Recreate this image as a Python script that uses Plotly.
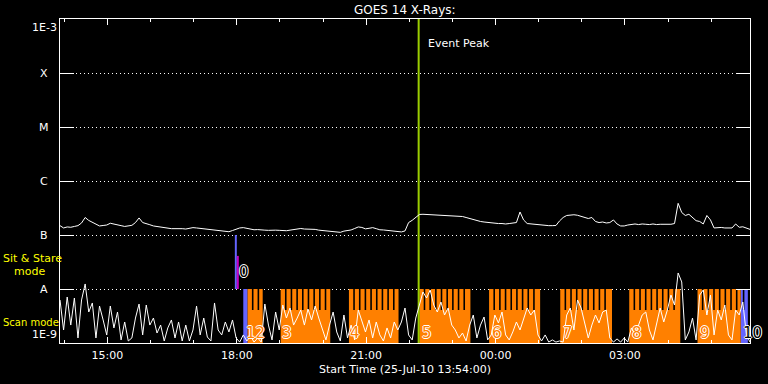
import numpy as np
import pandas as pd
import plotly.graph_objects as go

# ---------------- data ----------------
T0 = pd.Timestamp("2010-07-25 13:54:00")
T1 = pd.Timestamp("2010-07-26 05:54:00")
CADENCE = "5min"

# GOES 14 long channel flux, units of 1e-7 W/m^2, 5-minute cadence from T0
goes_flux_e7 = [
    1.49, 1.35, 1.41, 1.39, 1.44, 1.49, 1.67, 2.11, 1.86, 1.70,
    1.56, 1.47, 1.50, 1.53, 1.65, 1.61, 1.53, 1.49, 1.44, 1.47,
    1.51, 1.70, 2.07, 1.70, 1.60, 1.55, 1.47, 1.44, 1.39, 1.35,
    1.31, 1.31, 1.31, 1.33, 1.31, 1.29, 1.33, 1.37, 1.35, 1.33,
    1.29, 1.26, 1.25, 1.24, 1.21, 1.19, 1.18, 1.15, 1.21, 1.27,
    1.35, 1.37, 1.33, 1.29, 1.25, 1.26, 1.26, 1.23, 1.22, 1.24,
    1.23, 1.22, 1.21, 1.20, 1.23, 1.25, 1.30, 1.32, 1.29, 1.28,
    1.29, 1.27, 1.23, 1.21, 1.19, 1.17, 1.15, 1.14, 1.12, 1.18,
    1.21, 1.24, 1.32, 1.41, 1.38, 1.30, 1.33, 1.37, 1.31, 1.25,
    1.24, 1.22, 1.20, 1.18, 1.16, 1.14, 1.19, 1.70, 1.87, 2.15,
    2.40, 2.42, 2.40, 2.40, 2.37, 2.35, 2.35, 2.32, 2.30, 2.30,
    2.27, 2.25, 2.20, 2.11, 2.02, 1.90, 1.82, 1.78, 1.74, 1.70,
    1.70, 1.67, 1.63, 1.63, 1.60, 1.63, 1.67, 1.70, 2.67, 1.90,
    1.63, 1.60, 1.56, 1.53, 1.51, 1.50, 1.49, 1.49, 1.50, 1.82,
    2.11, 2.30, 2.37, 2.37, 2.32, 2.20, 2.07, 2.02, 2.11, 1.78,
    1.70, 1.74, 1.67, 1.70, 1.90, 1.60, 1.47, 1.47, 1.53, 1.58,
    1.60, 1.56, 1.60, 1.58, 1.56, 1.60, 1.56, 1.58, 1.58, 1.56,
    1.58, 1.63, 3.86, 2.61, 2.30, 2.42, 2.13, 1.84, 1.78, 1.60,
    2.30, 1.90, 1.35, 1.37, 1.38, 1.35, 1.37, 1.35, 1.60, 1.39,
    1.42, 1.32, 1.27,
]

# low-band count-rate trace, shown in units of 1e-9 on the same scale
lo_flux_e9 = [
    6.26, 1.74, 7.11, 2.15, 6.81, 1.24, 6.26, 12.4, 3.75, 5.51,
    1.24, 4.84, 2.67, 1.41, 4.84, 1.90, 3.75, 1.14, 2.45, 1.09,
    1.24, 2.90, 5.27, 1.41, 5.05, 2.15, 2.90, 1.53, 2.15, 1.09,
    1.90, 2.67, 1.24, 2.45, 1.09, 2.15, 1.09, 1.74, 4.84, 1.41,
    2.90, 1.29, 1.09, 5.51, 1.74, 1.41, 2.45, 1.60, 2.67, 1.24,
    1.04, 1.41, 1.09, 1.35, 1.04, 1.24, 1.04, 5.27, 2.15, 1.14,
    3.75, 1.74, 5.05, 2.90, 4.45, 2.15, 2.90, 4.08, 2.15, 4.26,
    2.67, 4.84, 2.90, 1.74, 1.14, 2.15, 3.75, 1.60, 1.09, 3.30,
    1.24, 2.15, 1.14, 4.08, 2.67, 1.60, 2.67, 1.24, 2.45, 1.41,
    1.09, 1.90, 1.24, 2.45, 1.74, 2.45, 4.45, 1.41, 1.14, 2.90,
    5.05, 8.80, 6.81, 9.58, 5.05, 3.75, 5.74, 3.30, 4.45, 2.15,
    1.74, 1.24, 1.53, 1.09, 2.15, 3.30, 1.24, 2.15, 3.03, 1.14,
    1.41, 3.30, 2.35, 3.75, 1.41, 1.14, 1.60, 2.45, 1.74, 2.67,
    4.45, 3.30, 4.08, 1.41, 1.09, 1.41, 1.04, 1.14, 1.04, 1.09,
    1.04, 3.30, 4.45, 1.74, 6.26, 4.45, 2.45, 1.24, 2.15, 3.30,
    2.35, 3.75, 4.08, 1.24, 1.04, 1.19, 1.04, 1.24, 1.04, 1.90,
    1.41, 2.15, 3.30, 3.75, 1.74, 1.14, 2.15, 4.45, 2.45, 4.08,
    7.74, 5.05, 19.8, 13.5, 1.14, 1.60, 2.90, 1.14, 7.74, 9.58,
    3.30, 7.74, 1.41, 4.08, 2.67, 5.05, 1.41, 1.14, 4.08, 3.30,
    5.74, 1.41, 1.04,
]

# scan-mode intervals (orange) and other-mode intervals (blue)
scan_starts = ["2010-07-25 18:15", "2010-07-25 19:01", "2010-07-25 20:36", "2010-07-25 22:14",
               "2010-07-25 23:51", "2010-07-26 01:30", "2010-07-26 03:06", "2010-07-26 04:41"]
scan_ends = ["2010-07-25 18:36", "2010-07-25 20:10", "2010-07-25 21:45", "2010-07-25 23:25",
             "2010-07-26 01:02", "2010-07-26 02:42", "2010-07-26 04:17", "2010-07-26 05:41"]
alt_starts = ["2010-07-25 18:09", "2010-07-26 05:41"]
alt_ends = ["2010-07-25 18:15", "2010-07-26 05:51"]

# sit & stare markers
stare_starts = ["2010-07-25 17:57:15", "2010-07-25 18:00"]
stare_ends = ["2010-07-25 18:00", "2010-07-25 18:02:45"]
stare_tops = [1e-7, 4.1e-8]

event_peak = "2010-07-25 22:13"

orbit_labels = ["0", "12", "3", "4", "5", "6", "7", "8", "9", "10"]
orbit_times = ["2010-07-25 18:00", "2010-07-25 18:10", "2010-07-25 19:00", "2010-07-25 20:35",
               "2010-07-25 22:15", "2010-07-25 23:52", "2010-07-26 01:31", "2010-07-26 03:07",
               "2010-07-26 04:42", "2010-07-26 05:41"]
orbit_flux = [2.07e-8, 1.53e-9, 1.53e-9, 1.53e-9, 1.53e-9, 1.53e-9, 1.53e-9, 1.53e-9, 1.53e-9, 1.53e-9]

xtick_vals = ["2010-07-25 15:00", "2010-07-25 18:00", "2010-07-25 21:00",
              "2010-07-26 00:00", "2010-07-26 03:00"]
xtick_text = ["15:00", "18:00", "21:00", "00:00", "03:00"]
ytick_vals = [1e-3, 1e-4, 1e-5, 1e-6, 1e-7, 1e-8, 1e-9]
ytick_text = ["1E-3", "X", "M", "C", "B", "A", "1E-9"]

# ---------------- style ----------------
FONT = "DejaVu Sans"
ORANGE = "#ff8000"
BLUE = "#6464ff"
MAGENTA = "#c800c8"
GREEN = "#9acd00"
YELLOW = "#ffff00"
TOOTH_FLOOR = 4.1e-9
TOOTH_PERIOD = pd.Timedelta(minutes=7.9)
TOOTH_GAP = pd.Timedelta(minutes=2.2)
TOOTH_OFFSET = pd.Timedelta(minutes=6)

times = pd.date_range(T0, periods=len(goes_flux_e7), freq=CADENCE)

fig = go.Figure()


def rect_trace(rects, color):
    xs, ys = [], []
    for x0, x1, y0, y1 in rects:
        x0, x1 = pd.Timestamp(x0), pd.Timestamp(x1)
        xs += [x0, x1, x1, x0, x0, None]
        ys += [y0, y0, y1, y1, y0, None]
    fig.add_trace(go.Scatter(x=xs, y=ys, mode="lines", fill="toself", fillcolor=color,
                             line=dict(width=0, color=color), hoverinfo="skip",
                             showlegend=False))


rect_trace([(s, e, 1e-9, 1e-8) for s, e in zip(alt_starts, alt_ends)], BLUE)
rect_trace([(s, e, 1e-9, 1e-8) for s, e in zip(scan_starts, scan_ends)], ORANGE)

gaps = []
for s, e in list(zip(scan_starts, scan_ends)) + list(zip(alt_starts[1:], alt_ends[1:])):
    s, e = pd.Timestamp(s), pd.Timestamp(e)
    g = s + (TOOTH_OFFSET if (e - s) > pd.Timedelta(minutes=12) else pd.Timedelta(minutes=3))
    while g + TOOTH_GAP <= e - pd.Timedelta(minutes=2):
        gaps.append((g, g + TOOTH_GAP, TOOTH_FLOOR, 1e-8))
        g += TOOTH_PERIOD
rect_trace(gaps, "black")

rect_trace([(stare_starts[0], stare_ends[0], 1e-8, stare_tops[0])], BLUE)
rect_trace([(stare_starts[1], stare_ends[1], 1e-8, stare_tops[1])], MAGENTA)

fig.add_trace(go.Scatter(x=[pd.Timestamp(event_peak)] * 2, y=[1e-9, 1e-3], mode="lines",
                         line=dict(color=GREEN, width=2), hoverinfo="skip", showlegend=False))

fig.add_trace(go.Scatter(x=times, y=np.array(goes_flux_e7) * 1e-7, mode="lines",
                         line=dict(color="white", width=1), hoverinfo="skip", showlegend=False))
fig.add_trace(go.Scatter(x=times, y=np.array(lo_flux_e9) * 1e-9, mode="lines",
                         line=dict(color="white", width=1), hoverinfo="skip",
                         showlegend=False))

ann = []
for txt, v in zip(ytick_text, ytick_vals):
    anchor = "top" if v == ytick_vals[0] else ("bottom" if v == ytick_vals[-1] else "middle")
    ann.append(dict(text=txt, xref="paper", x=-16 / 690, xanchor="center", yref="y",
                    y=float(np.log10(v)), yanchor=anchor, showarrow=False,
                    font=dict(family=FONT, size=11, color="white")))

ann.append(dict(text="GOES 14 X-Rays:", xref="paper", x=0.5, yref="paper", y=(343 - 10) / 324,
                xanchor="center", yanchor="middle", showarrow=False,
                font=dict(family=FONT, size=12, color="white")))
ann.append(dict(text="Start Time (25-Jul-10 13:54:00)", xref="paper", x=0.5, yref="paper",
                y=(343 - 369) / 324, xanchor="center", yanchor="middle", showarrow=False,
                font=dict(family=FONT, size=11, color="white")))
ann.append(dict(text="Event Peak", xref="x", x=event_peak, xanchor="left", xshift=7,
                yref="paper", y=(343 - 43) / 324, yanchor="middle", showarrow=False,
                font=dict(family=FONT, size=11, color="white")))
for txt, ypx, xpx, sz in [("Sit & Stare", 258, 1, 11), ("mode", 271, 12, 11),
                          ("Scan mode", 322, 1, 10)]:
    ann.append(dict(text=txt, xref="paper", x=(xpx - 60) / 690, xanchor="left", yref="paper",
                    y=(343 - ypx) / 324, yanchor="middle", showarrow=False,
                    font=dict(family=FONT, size=sz, color=YELLOW)))

outline = "1px 0 0 #fff, -1px 0 0 #fff, 0 1px 0 #fff, 0 -1px 0 #fff"
for txt, t, f in zip(orbit_labels, orbit_times, orbit_flux):
    fill = "black" if txt in ("0", "10") else ORANGE
    ann.append(dict(text=txt, xref="x", x=t, xanchor="left", yref="y", y=float(np.log10(f)),
                    yanchor="middle", showarrow=False,
                    font=dict(family=FONT, size=15, color=fill, shadow=outline)))

fig.update_layout(
    width=768, height=384,
    margin=dict(l=60, r=18, t=19, b=41),
    paper_bgcolor="black", plot_bgcolor="black",
    annotations=ann, showlegend=False,
    font=dict(family=FONT, size=11, color="white"),
)
fig.update_xaxes(
    type="date", range=[T0, T1], tickmode="array", tickvals=xtick_vals, ticktext=xtick_text,
    ticks="inside", ticklen=6, tickcolor="white", tickwidth=1,
    showline=True, linecolor="white", linewidth=1, mirror="allticks",
    showgrid=False, zeroline=False, ticklabelstandoff=2,
    tickfont=dict(family=FONT, size=11, color="white"),
    minor=dict(tickmode="linear", tick0="2010-07-25 14:00", dtick=3600000, ticks="inside",
               ticklen=3, tickcolor="white", showgrid=False),
)
fig.update_yaxes(
    type="log", range=[-9, -3], tickmode="array", tickvals=ytick_vals, showticklabels=False,
    ticks="inside", ticklen=14, tickcolor="white", tickwidth=1,
    showline=True, linecolor="white", linewidth=1, mirror="allticks",
    showgrid=True, gridcolor="white", gridwidth=1, griddash="1px,3px", zeroline=False,
)

fig.write_html("out.html")
